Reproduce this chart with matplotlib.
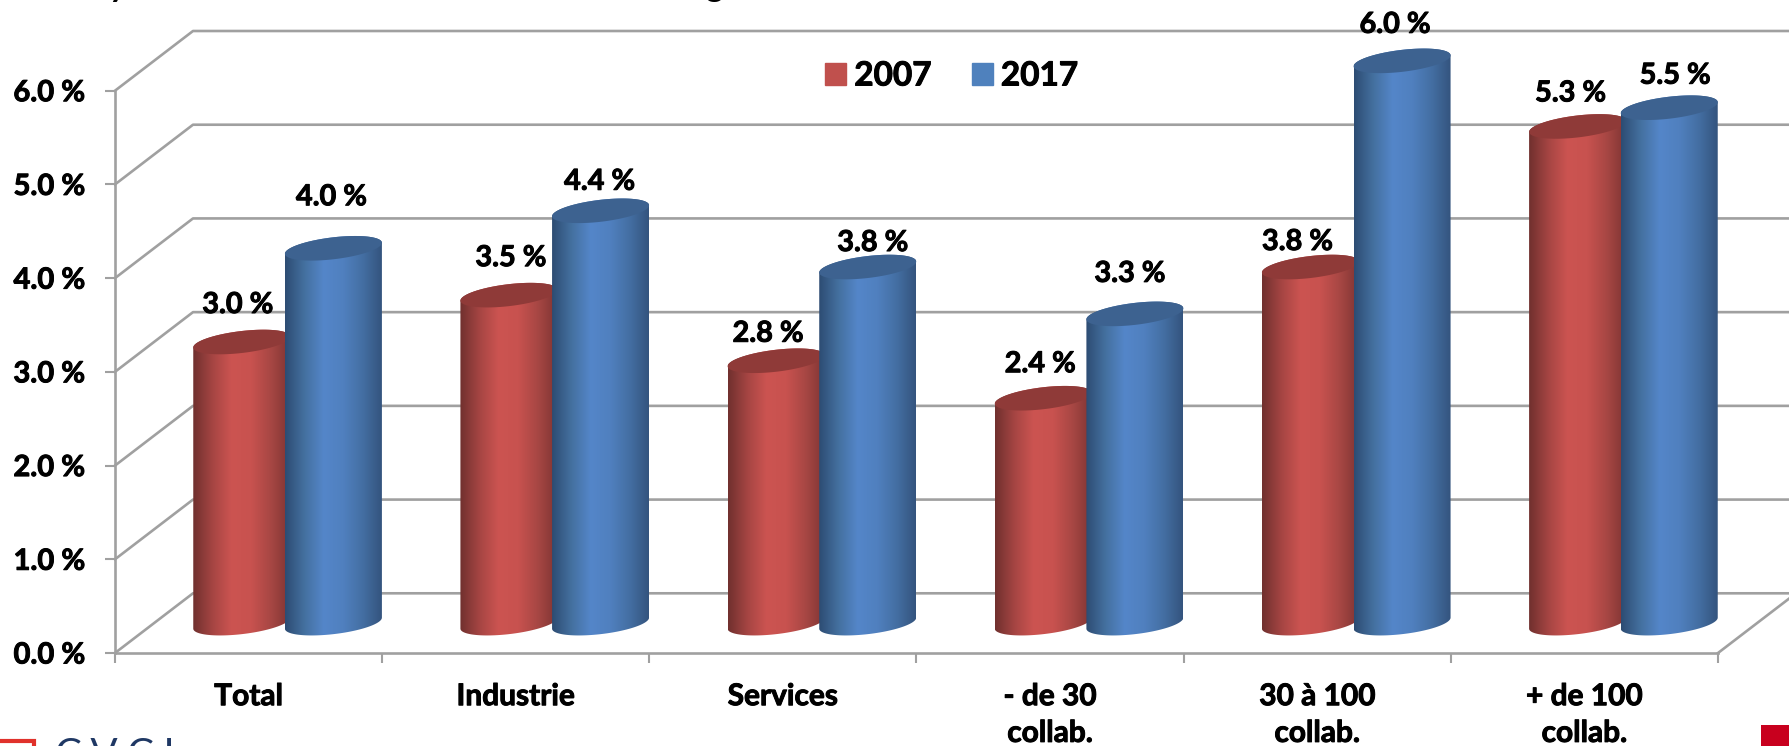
import numpy as np
import matplotlib
matplotlib.use("Agg")
import matplotlib.pyplot as plt
import matplotlib.patheffects as pe
from matplotlib.colors import LinearSegmentedColormap
from matplotlib.patches import Patch, Polygon, Rectangle
from matplotlib.ticker import FuncFormatter

plt.rcParams['font.family'] = ['Lato', 'DejaVu Sans']
plt.rcParams['font.weight'] = 'bold'

# data
categories = ["Total", "Industrie", "Services", "- de 30\ncollab.", "30 à 100\ncollab.", "+ de 100\ncollab."]
years = ["2007", "2017"]
values_2007 = [3.0, 3.5, 2.8, 2.4, 3.8, 5.3]
values_2017 = [4.0, 4.4, 3.8, 3.3, 6.0, 5.5]
y_ticks = [0, 1, 2, 3, 4, 5, 6]

# hand placed data labels, in pixels from the top of each cylinder
offsets_2007 = [(-4, 37), (2, 37), (-8, 27), (-3, 34), (-13, 25), (-7, 33)]
offsets_2017 = [(-2, 51), (-1, 29), (5, 24), (-5, 40), (-7, 36), (6, 32)]

W, H = 1790, 746
x0, x1, y0, y6 = 115, 1718, 653, 90.7  # front plane of the fake 3d box
px_x = (x1 - x0) / 6
px_y = (y0 - y6) / 6

depth_x = 78 / px_x
depth_y = 59.7 / px_y
bar_w = 97 / px_x
bar_step = 0.343
ell_b = 11 / px_y
ell_s = 5.5 / px_y

grid_col = '#A0A0A0'
red_cmap = LinearSegmentedColormap.from_list('r', ['#70302E', '#A54543', '#CC5451', '#C8524F', '#A84744', '#7F3533'])
blue_cmap = LinearSegmentedColormap.from_list('b', ['#2D4C73', '#44709F', '#5486C9', '#5080BF', '#446FA3', '#34547E'])
red_top = '#8F3A38'
blue_top = '#3D6290'

fig = plt.figure(figsize=(W / 100, H / 100), dpi=100)
ax = fig.add_axes([x0 / W, (H - y0) / H, (x1 - x0) / W, (y0 - y6) / H])
ax.patch.set_visible(False)


def ellipse(cx, cy, t):
    return np.column_stack([cx + bar_w / 2 * np.cos(t), cy + ell_b * np.sin(t) + ell_s * np.cos(t)])


def cylinder(cx, val, cmap, top_col, z):
    # the depth puts the bars half way back in the box
    base = depth_y / 2
    top = val + base
    lower = ellipse(cx, base, np.linspace(np.pi, 2 * np.pi, 60))
    upper = ellipse(cx, top, np.linspace(0, np.pi, 60))
    body = Polygon(np.vstack([lower, upper]), closed=True, fc='none', ec='none', zorder=z)
    ax.add_patch(body)
    im = ax.imshow(np.linspace(0, 1, 256).reshape(1, -1), cmap=cmap, aspect='auto', interpolation='bilinear',
                   extent=[cx - bar_w / 2, cx + bar_w / 2, base - 1, top + 1], zorder=z)
    im.set_clip_box(fig.bbox)
    im.set_clip_path(body)
    cap = Polygon(ellipse(cx, top, np.linspace(0, 2 * np.pi, 120)), closed=True, fc=top_col, ec='none',
                  zorder=z + 0.1, clip_on=False)
    ax.add_patch(cap)
    return top


# back wall and side lines
for v in y_ticks:
    ax.plot([0, depth_x, 6 + depth_x], [v, v + depth_y, v + depth_y], color=grid_col, lw=1.9, zorder=1, clip_on=False)
ax.plot([6, 6 + depth_x], [0, depth_y], color=grid_col, lw=1.9, zorder=1, clip_on=False)

for i in range(len(categories)):
    cx = i + 0.5 + depth_x / 2
    x_red = cx - bar_step / 2
    x_blue = cx + bar_step / 2
    top_red = cylinder(x_red, values_2007[i], red_cmap, red_top, 3)
    top_blue = cylinder(x_blue, values_2017[i], blue_cmap, blue_top, 4)
    for x, t, v, off in [(x_red, top_red, values_2007[i], offsets_2007[i]),
                         (x_blue, top_blue, values_2017[i], offsets_2017[i])]:
        ax.annotate(f"{v:.1f} %", xy=(x, t), xytext=(off[0] * 0.72, off[1] * 0.72), textcoords='offset points',
                    ha='center', va='center', fontsize=20.8, color='black', zorder=6, annotation_clip=False)

ax.set_xlim(0, 6)
ax.set_ylim(0, 6)
ax.set_yticks(y_ticks)
ax.yaxis.set_major_formatter(FuncFormatter(lambda v, p: f"{v:.1f} %"))
ax.set_xticks(range(7))
ax.set_xticklabels([])
ax.set_xticks(np.arange(6) + 0.5, minor=True)
ax.set_xticklabels(categories, minor=True, linespacing=1.38, ha='center', va='top')
ax.tick_params(axis='y', length=7.5, width=1.5, color=grid_col, labelsize=21, pad=14)
ax.tick_params(axis='x', which='major', length=7.5, width=1.5, color=grid_col)
ax.tick_params(axis='x', which='minor', length=0, labelsize=21.5, pad=21)
for s in ['top', 'right']:
    ax.spines[s].set_visible(False)
for s in ['left', 'bottom']:
    ax.spines[s].set_color(grid_col)
    ax.spines[s].set_linewidth(1.9)

handles = [Patch(color='#C0504D', label=years[0]), Patch(color='#4F81BD', label=years[1])]
leg = fig.legend(handles=handles, loc='center', bbox_to_anchor=(951.5 / W, 1 - 76 / H), ncol=2, frameon=False,
                 fontsize=24, handlelength=0.64, handleheight=0.64, handletextpad=0.24, columnspacing=1.2,
                 borderpad=0, borderaxespad=0)

# the reference text is heavier than Lato Bold
heavy = [pe.withStroke(linewidth=0.7, foreground='black')]
for t in ax.texts + ax.get_yticklabels() + ax.get_xticklabels(minor=True) + leg.get_texts():
    t.set_path_effects(heavy)

# bits of the slide that the crop cut off: title descenders, logo and corner square
fig.text(118 / W, 1 + 3 / H, "y", fontsize=24, ha='center', va='baseline')
fig.text(714 / W, 1 + 3 / H, "g", fontsize=24, ha='center', va='baseline')
fig.text(54 / W, 1 - 737 / H, "C.V.C.I.", fontsize=29, weight='normal', color='#1F3864', ha='left', va='top')
fig.add_artist(Rectangle((-10 / W, 1 - 760 / H), 44 / W, 19 / H, transform=fig.transFigure, fc='none', ec='#E0312B', lw=3))
fig.add_artist(Rectangle((1761 / W, 0), 29 / W, 21 / H, transform=fig.transFigure, fc='#C8001E', ec='none'))

fig.savefig('out.png', dpi=100)
